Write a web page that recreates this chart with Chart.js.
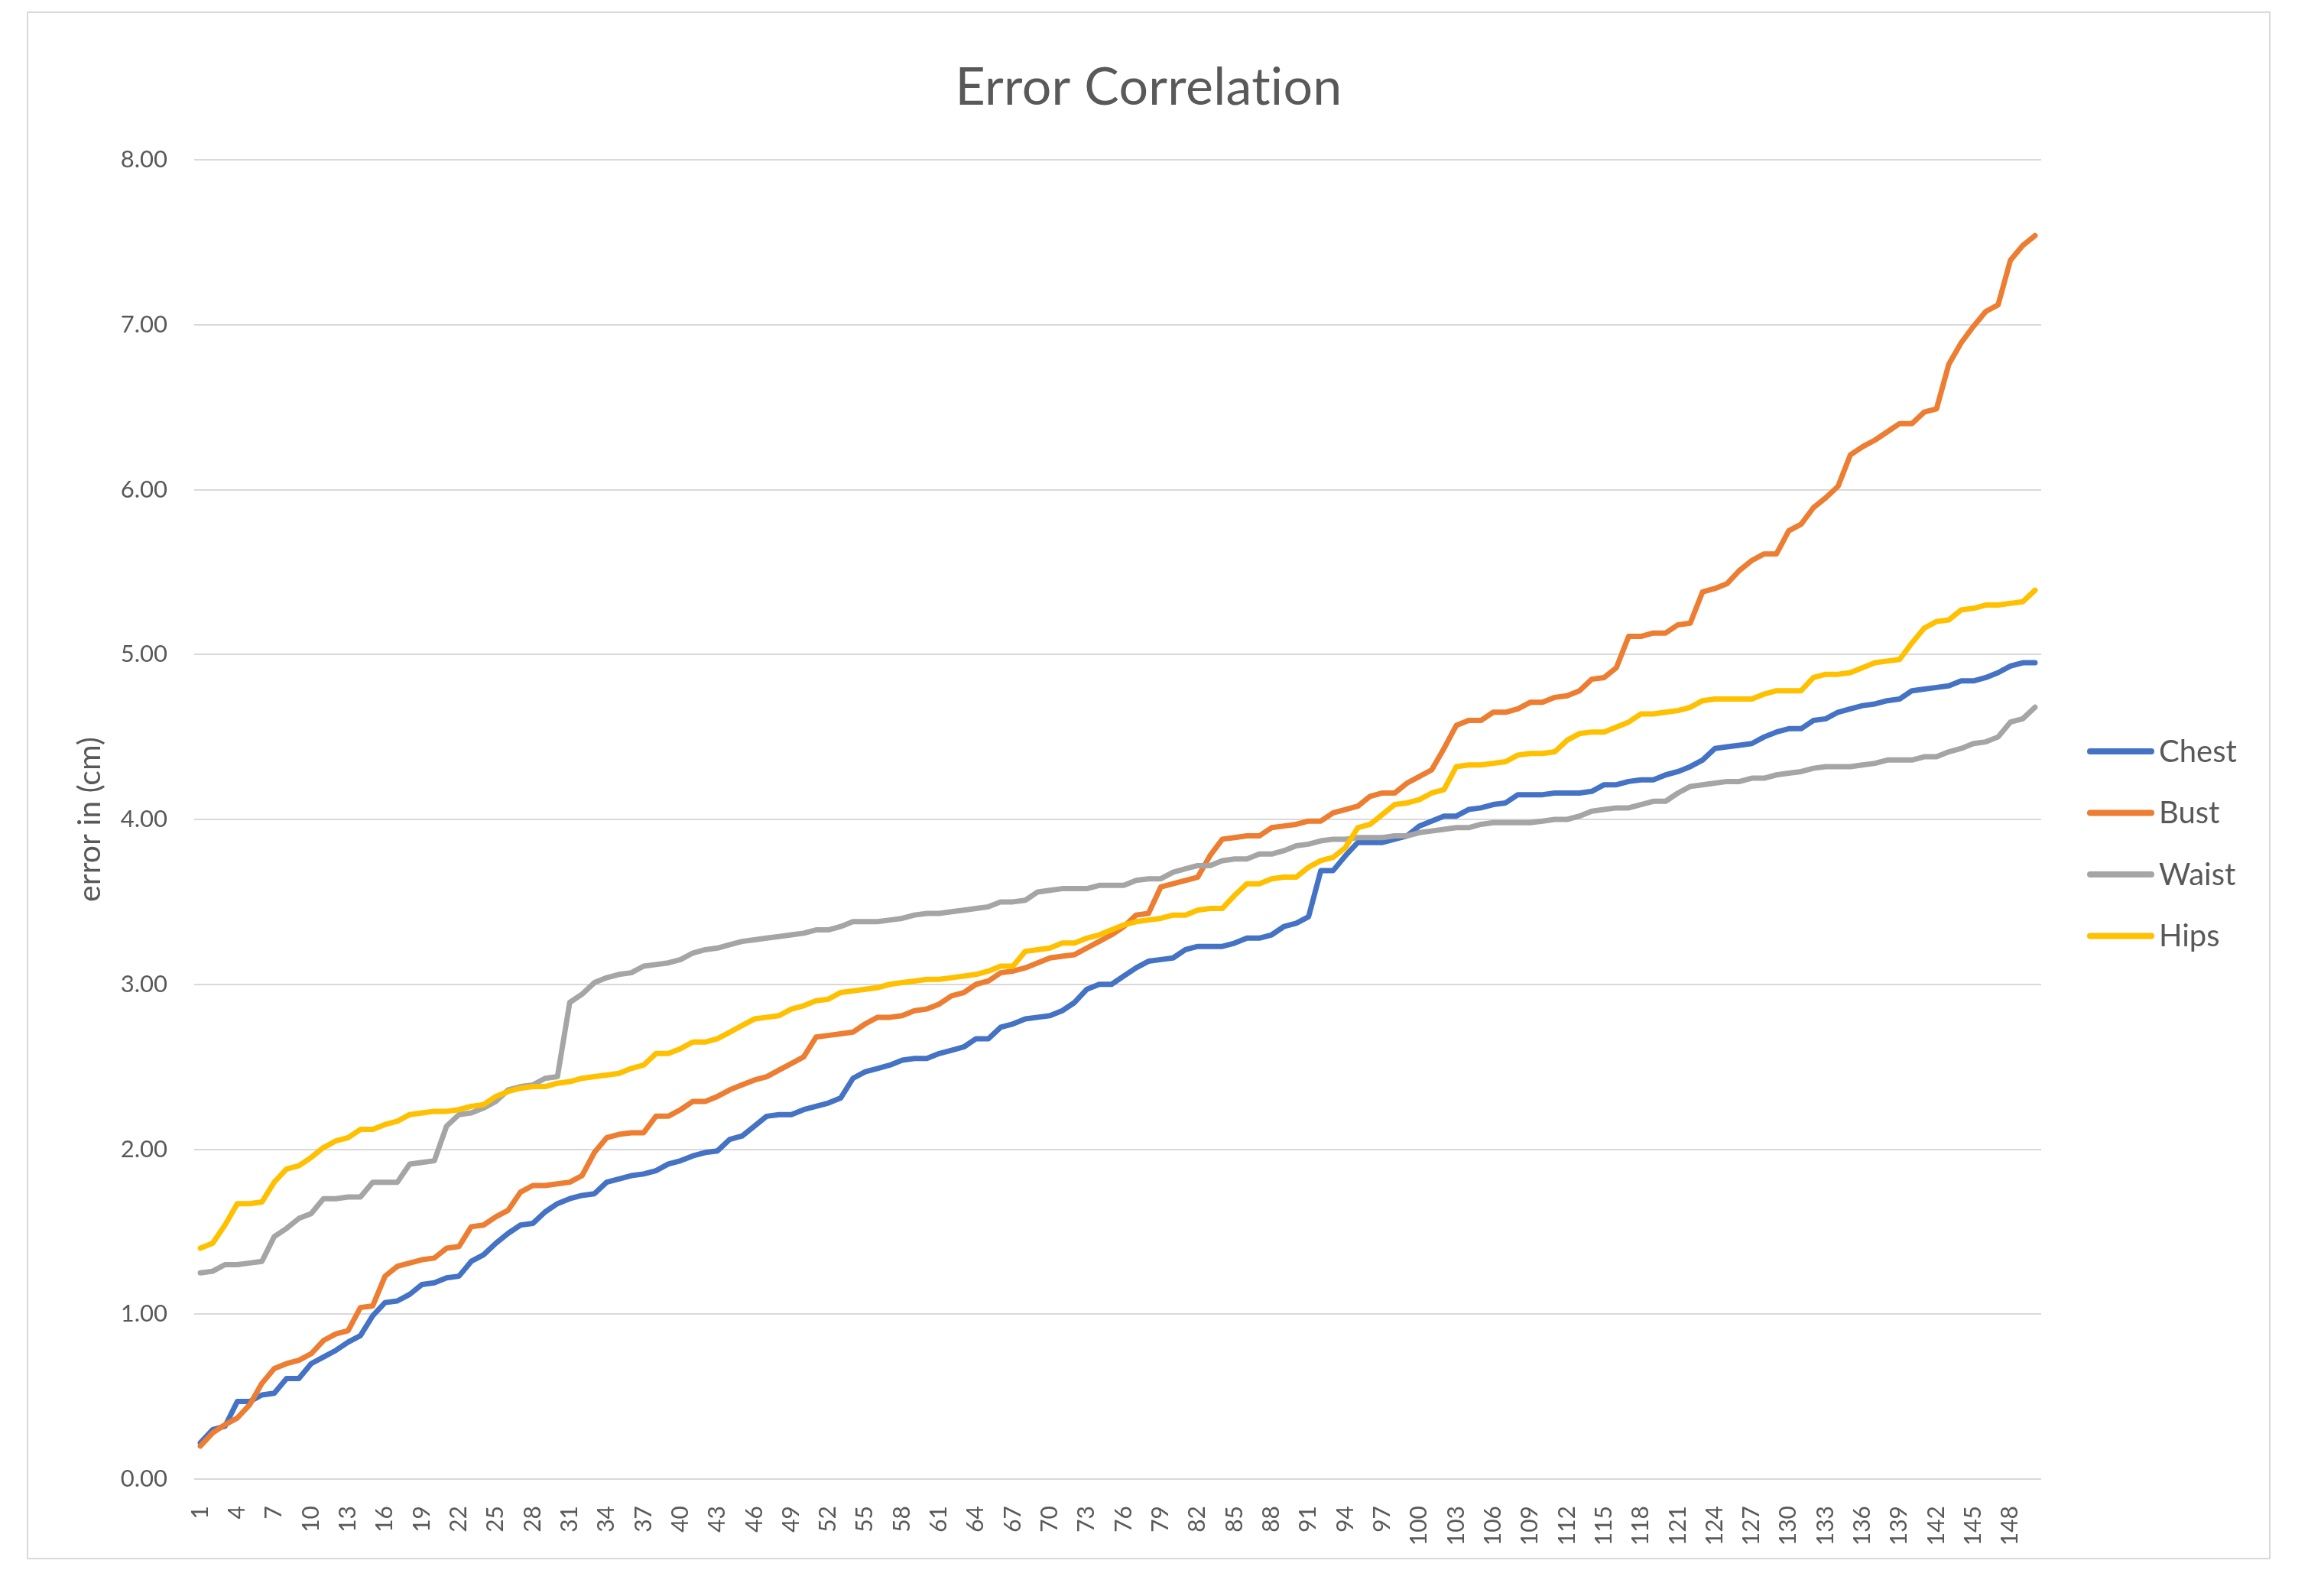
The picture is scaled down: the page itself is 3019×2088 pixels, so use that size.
<!DOCTYPE html>
<html>
<head>
<meta charset="utf-8">
<title>Error Correlation</title>
<script src="https://cdn.jsdelivr.net/npm/chart.js@4.4.1/dist/chart.umd.min.js"></script>
<style>
  html, body { margin: 0; padding: 0; background: #ffffff; }
  #frame {
    position: absolute;
    left: 35px;
    top: 15px;
    width: 2935px;
    height: 2025px;
    box-sizing: border-box;
    border: 2px solid #d9d9d9;
  }
  #grafico { display: block; }
</style>
</head>
<body>
<div id="frame">
  <canvas id="grafico" width="2931" height="2021"></canvas>
</div>
<script>
// categorias 1..150
const categorias = [];
for (let i = 1; i <= 150; i++) categorias.push(String(i));

const titulo = "Error Correlation";
const seriesNames = ["Chest", "Bust", "Waist", "Hips"];
const seriesColors = ["#4472C4", "#ED7D31", "#A5A5A5", "#FFC000"];

const yTicks = [0, 1, 2, 3, 4, 5, 6, 7, 8];

const chest = [
  0.22, 0.30, 0.32, 0.47, 0.47, 0.51, 0.52, 0.61, 0.61, 0.70,
  0.74, 0.78, 0.83, 0.87, 0.99, 1.07, 1.08, 1.12, 1.18, 1.19,
  1.22, 1.23, 1.32, 1.36, 1.43, 1.49, 1.54, 1.55, 1.62, 1.67,
  1.70, 1.72, 1.73, 1.80, 1.82, 1.84, 1.85, 1.87, 1.91, 1.93,
  1.96, 1.98, 1.99, 2.06, 2.08, 2.14, 2.20, 2.21, 2.21, 2.24,
  2.26, 2.28, 2.31, 2.43, 2.47, 2.49, 2.51, 2.54, 2.55, 2.55,
  2.58, 2.60, 2.62, 2.67, 2.67, 2.74, 2.76, 2.79, 2.80, 2.81,
  2.84, 2.89, 2.97, 3.00, 3.00, 3.05, 3.10, 3.14, 3.15, 3.16,
  3.21, 3.23, 3.23, 3.23, 3.25, 3.28, 3.28, 3.30, 3.35, 3.37,
  3.41, 3.69, 3.69, 3.78, 3.86, 3.86, 3.86, 3.88, 3.90, 3.96,
  3.99, 4.02, 4.02, 4.06, 4.07, 4.09, 4.10, 4.15, 4.15, 4.15,
  4.16, 4.16, 4.16, 4.17, 4.21, 4.21, 4.23, 4.24, 4.24, 4.27,
  4.29, 4.32, 4.36, 4.43, 4.44, 4.45, 4.46, 4.50, 4.53, 4.55,
  4.55, 4.60, 4.61, 4.65, 4.67, 4.69, 4.70, 4.72, 4.73, 4.78,
  4.79, 4.80, 4.81, 4.84, 4.84, 4.86, 4.89, 4.93, 4.95, 4.95,
];

const bust = [
  0.20, 0.28, 0.33, 0.37, 0.45, 0.58, 0.67, 0.70, 0.72, 0.76,
  0.84, 0.88, 0.90, 1.04, 1.05, 1.23, 1.29, 1.31, 1.33, 1.34,
  1.40, 1.41, 1.53, 1.54, 1.59, 1.63, 1.74, 1.78, 1.78, 1.79,
  1.80, 1.84, 1.98, 2.07, 2.09, 2.10, 2.10, 2.20, 2.20, 2.24,
  2.29, 2.29, 2.32, 2.36, 2.39, 2.42, 2.44, 2.48, 2.52, 2.56,
  2.68, 2.69, 2.70, 2.71, 2.76, 2.80, 2.80, 2.81, 2.84, 2.85,
  2.88, 2.93, 2.95, 3.00, 3.02, 3.07, 3.08, 3.10, 3.13, 3.16,
  3.17, 3.18, 3.22, 3.26, 3.30, 3.35, 3.42, 3.43, 3.59, 3.61,
  3.63, 3.65, 3.78, 3.88, 3.89, 3.90, 3.90, 3.95, 3.96, 3.97,
  3.99, 3.99, 4.04, 4.06, 4.08, 4.14, 4.16, 4.16, 4.22, 4.26,
  4.30, 4.43, 4.57, 4.60, 4.60, 4.65, 4.65, 4.67, 4.71, 4.71,
  4.74, 4.75, 4.78, 4.85, 4.86, 4.92, 5.11, 5.11, 5.13, 5.13,
  5.18, 5.19, 5.38, 5.40, 5.43, 5.51, 5.57, 5.61, 5.61, 5.75,
  5.79, 5.89, 5.95, 6.02, 6.21, 6.26, 6.30, 6.35, 6.40, 6.40,
  6.47, 6.49, 6.76, 6.89, 6.99, 7.08, 7.12, 7.39, 7.48, 7.54,
];

const waist = [
  1.25, 1.26, 1.30, 1.30, 1.31, 1.32, 1.47, 1.52, 1.58, 1.61,
  1.70, 1.70, 1.71, 1.71, 1.80, 1.80, 1.80, 1.91, 1.92, 1.93,
  2.14, 2.21, 2.22, 2.25, 2.29, 2.36, 2.38, 2.39, 2.43, 2.44,
  2.89, 2.94, 3.01, 3.04, 3.06, 3.07, 3.11, 3.12, 3.13, 3.15,
  3.19, 3.21, 3.22, 3.24, 3.26, 3.27, 3.28, 3.29, 3.30, 3.31,
  3.33, 3.33, 3.35, 3.38, 3.38, 3.38, 3.39, 3.40, 3.42, 3.43,
  3.43, 3.44, 3.45, 3.46, 3.47, 3.50, 3.50, 3.51, 3.56, 3.57,
  3.58, 3.58, 3.58, 3.60, 3.60, 3.60, 3.63, 3.64, 3.64, 3.68,
  3.70, 3.72, 3.72, 3.75, 3.76, 3.76, 3.79, 3.79, 3.81, 3.84,
  3.85, 3.87, 3.88, 3.88, 3.89, 3.89, 3.89, 3.90, 3.90, 3.92,
  3.93, 3.94, 3.95, 3.95, 3.97, 3.98, 3.98, 3.98, 3.98, 3.99,
  4.00, 4.00, 4.02, 4.05, 4.06, 4.07, 4.07, 4.09, 4.11, 4.11,
  4.16, 4.20, 4.21, 4.22, 4.23, 4.23, 4.25, 4.25, 4.27, 4.28,
  4.29, 4.31, 4.32, 4.32, 4.32, 4.33, 4.34, 4.36, 4.36, 4.36,
  4.38, 4.38, 4.41, 4.43, 4.46, 4.47, 4.50, 4.59, 4.61, 4.68,
];

const hips = [
  1.40, 1.43, 1.54, 1.67, 1.67, 1.68, 1.80, 1.88, 1.90, 1.95,
  2.01, 2.05, 2.07, 2.12, 2.12, 2.15, 2.17, 2.21, 2.22, 2.23,
  2.23, 2.24, 2.26, 2.27, 2.32, 2.35, 2.37, 2.38, 2.38, 2.40,
  2.41, 2.43, 2.44, 2.45, 2.46, 2.49, 2.51, 2.58, 2.58, 2.61,
  2.65, 2.65, 2.67, 2.71, 2.75, 2.79, 2.80, 2.81, 2.85, 2.87,
  2.90, 2.91, 2.95, 2.96, 2.97, 2.98, 3.00, 3.01, 3.02, 3.03,
  3.03, 3.04, 3.05, 3.06, 3.08, 3.11, 3.11, 3.20, 3.21, 3.22,
  3.25, 3.25, 3.28, 3.30, 3.33, 3.36, 3.38, 3.39, 3.40, 3.42,
  3.42, 3.45, 3.46, 3.46, 3.54, 3.61, 3.61, 3.64, 3.65, 3.65,
  3.71, 3.75, 3.77, 3.83, 3.95, 3.97, 4.03, 4.09, 4.10, 4.12,
  4.16, 4.18, 4.32, 4.33, 4.33, 4.34, 4.35, 4.39, 4.40, 4.40,
  4.41, 4.48, 4.52, 4.53, 4.53, 4.56, 4.59, 4.64, 4.64, 4.65,
  4.66, 4.68, 4.72, 4.73, 4.73, 4.73, 4.73, 4.76, 4.78, 4.78,
  4.78, 4.86, 4.88, 4.88, 4.89, 4.92, 4.95, 4.96, 4.97, 5.07,
  5.16, 5.20, 5.21, 5.27, 5.28, 5.30, 5.30, 5.31, 5.32, 5.39,
];

const valores = [chest, bust, waist, hips];

const textColor = "#595959";
const gridColor = "#d9d9d9";
const fontFamily = "Lato, 'Open Sans', sans-serif";
Chart.defaults.font.family = fontFamily;
Chart.defaults.color = textColor;

// titulo centrado en todo el lienzo + leyenda a la derecha, dibujados a mano
const marco = {
  id: "marco",
  afterDraw(chart) {
    const { ctx, chartArea, width } = chart;
    ctx.save();

    ctx.fillStyle = textColor;
    ctx.font = "68px " + fontFamily;
    ctx.textAlign = "center";
    ctx.textBaseline = "middle";
    ctx.letterSpacing = "0.3px"; // evita la ligadura "ti"
    ctx.fillText(titulo, width / 2, 98);
    ctx.letterSpacing = "0px";

    const x0 = chartArea.right + 60;
    const top = (chartArea.top + chartArea.bottom) / 2 - 89;
    ctx.font = "40px " + fontFamily;
    ctx.textAlign = "left";
    seriesNames.forEach((name, i) => {
      const y = top + i * 80.5;
      ctx.strokeStyle = seriesColors[i];
      ctx.lineWidth = 8;
      ctx.lineCap = "round";
      ctx.beginPath();
      ctx.moveTo(x0 + 4, y);
      ctx.lineTo(x0 + 84, y);
      ctx.stroke();
      ctx.fillStyle = textColor;
      ctx.fillText(name, x0 + 94, y + 1);
    });
    ctx.restore();
  },
};

const ctx = document.getElementById("grafico").getContext("2d");
new Chart(ctx, {
  type: "line",
  data: {
    labels: categorias,
    datasets: seriesNames.map((name, i) => ({
      label: name,
      data: valores[i],
      borderColor: seriesColors[i],
      backgroundColor: seriesColors[i],
      borderWidth: 7,
      borderCapStyle: "round",
      borderJoinStyle: "round",
      pointRadius: 0,
      tension: 0,
      order: seriesNames.length - 1 - i,
    })),
  },
  options: {
    responsive: false,
    animation: false,
    layout: { padding: { left: 0, right: 298, top: 192, bottom: 0 } },
    plugins: {
      legend: { display: false },
      tooltip: { enabled: false },
      title: { display: false },
    },
    scales: {
      x: {
        type: "category",
        offset: true,
        grid: { display: false },
        border: { display: false },
        ticks: {
          autoSkip: false,
          minRotation: 90,
          maxRotation: 90,
          padding: 27,
          color: textColor,
          font: { size: 30 },
          callback: function (val, idx) {
            return idx % 3 === 0 ? categorias[idx] : "";
          },
        },
        afterFit: (scale) => {
          scale.height = 103;
        },
      },
      y: {
        min: yTicks[0],
        max: yTicks[yTicks.length - 1],
        grid: { color: gridColor, lineWidth: 2, drawTicks: false },
        border: { display: false },
        ticks: {
          stepSize: 1,
          padding: 35,
          color: textColor,
          font: { size: 31 },
          callback: (v) => Number(v).toFixed(2),
        },
        title: {
          display: true,
          text: "error in (cm)",
          color: textColor,
          font: { size: 41 },
          padding: { top: 56, bottom: 0 },
        },
        afterFit: (scale) => {
          scale.width = 217;
        },
      },
    },
  },
  plugins: [marco],
});
</script>
</body>
</html>
